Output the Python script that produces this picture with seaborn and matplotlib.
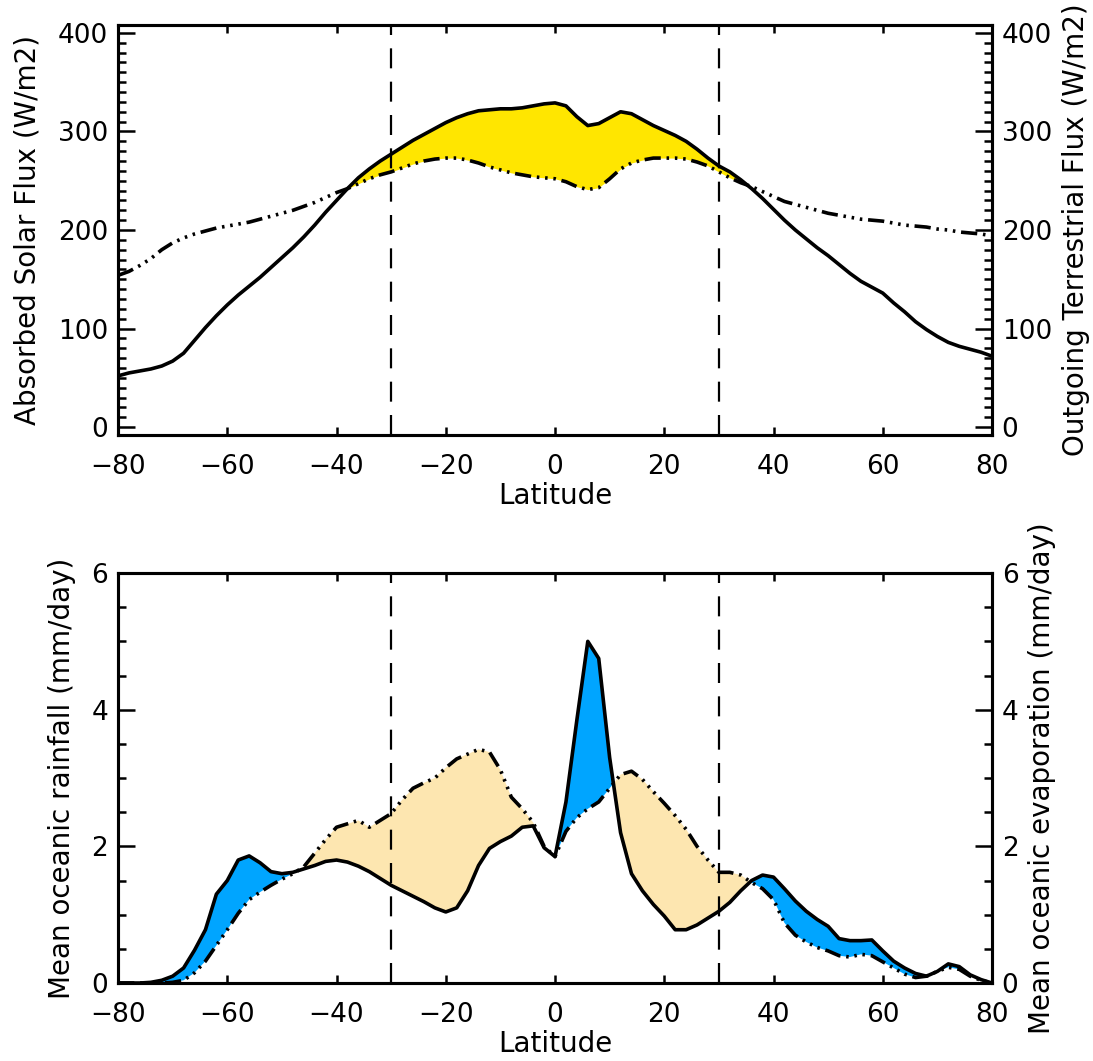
import numpy as np
import pandas as pd
import seaborn as sns
import matplotlib.pyplot as plt
from matplotlib.ticker import MultipleLocator

# latitude grid (every 2 degrees)
lat = np.arange(-80, 81, 2)

# top panel: absorbed solar and outgoing terrestrial flux (W/m2)
solar = [52, 55, 57, 59, 62, 67, 75, 88, 101, 113,
         124, 134, 143, 152, 162, 172, 182, 193, 205, 218,
         230, 242, 253, 262, 270, 277, 284, 291, 297, 303,
         309, 314, 318, 321, 322, 323, 323, 324, 326, 328,
         329, 326, 315, 306, 308, 314, 320, 318, 312, 306,
         301, 296, 290, 282, 273, 265, 259, 251, 242, 232,
         221, 210, 200, 191, 182, 174, 165, 156, 148, 142,
         136, 126, 117, 107, 99, 92, 86, 82, 79, 76, 72]
olr = [154, 158, 164, 171, 180, 187, 192, 196, 199, 202,
       204, 206, 208, 211, 214, 217, 220, 224, 228, 233,
       238, 242, 247, 252, 256, 259, 263, 267, 270, 272,
       273, 273, 271, 268, 264, 261, 258, 256, 254, 253,
       252, 249, 244, 241, 243, 252, 262, 268, 271, 273,
       273, 273, 272, 269, 265, 259, 253, 248, 244, 239,
       234, 229, 226, 223, 220, 217, 215, 213, 211, 210,
       209, 207, 205, 204, 203, 201, 200, 198, 197, 196, 194]

# bottom panel: mean oceanic rainfall and evaporation (mm/day)
rain = [0, 0, 0, 0.01, 0.04, 0.10, 0.22, 0.48, 0.78, 1.30,
        1.50, 1.80, 1.86, 1.76, 1.63, 1.60, 1.62, 1.67, 1.72, 1.78,
        1.80, 1.77, 1.71, 1.63, 1.53, 1.43, 1.35, 1.27, 1.19, 1.10,
        1.04, 1.10, 1.35, 1.72, 1.97, 2.07, 2.15, 2.28, 2.30, 1.98,
        1.85, 2.65, 3.85, 5.00, 4.75, 3.30, 2.20, 1.60, 1.35, 1.15,
        0.98, 0.78, 0.78, 0.85, 0.95, 1.05, 1.18, 1.35, 1.50, 1.58,
        1.55, 1.38, 1.20, 1.05, 0.93, 0.83, 0.65, 0.62, 0.62, 0.63,
        0.47, 0.32, 0.22, 0.14, 0.10, 0.17, 0.28, 0.24, 0.12, 0.05, 0.0]
evap = [0, 0, 0, 0, 0, 0.01, 0.04, 0.15, 0.32, 0.55,
        0.78, 1.02, 1.22, 1.33, 1.43, 1.52, 1.60, 1.70, 1.90, 2.10,
        2.28, 2.33, 2.38, 2.28, 2.38, 2.48, 2.68, 2.85, 2.93, 3.00,
        3.15, 3.28, 3.35, 3.42, 3.38, 3.12, 2.72, 2.55, 2.35, 2.00,
        1.85, 2.22, 2.42, 2.55, 2.65, 2.85, 3.05, 3.10, 2.98, 2.80,
        2.63, 2.45, 2.25, 2.00, 1.80, 1.62, 1.62, 1.58, 1.47, 1.38,
        1.22, 0.88, 0.70, 0.60, 0.52, 0.47, 0.40, 0.38, 0.42, 0.40,
        0.31, 0.22, 0.13, 0.08, 0.10, 0.17, 0.23, 0.20, 0.10, 0.04, 0.0]

df = pd.DataFrame({"lat": lat, "solar": solar, "olr": olr, "rain": rain, "evap": evap})

sns.set_style("ticks")
plt.rcParams['font.family'] = ['DejaVu Sans']
plt.rcParams.update({
    'axes.linewidth': 2.2, 'axes.edgecolor': 'black', 'axes.labelcolor': 'black',
    'text.color': 'black', 'xtick.color': 'black', 'ytick.color': 'black',
})

dashdotdot = (0, (4.5, 1.6, 0.7, 1.6, 0.7, 1.6, 0.7, 1.6))
FS = 19
LFS = 20

fig = plt.figure(figsize=(10.93, 10.61), dpi=100)
ax1 = fig.add_axes([0.108, 0.590, 0.7996, 0.3864])
ax2 = fig.add_axes([0.108, 0.0735, 0.7996, 0.3864])


def style_axes(ax, ylim, major, minor, ylabel, rlabel, lpad):
    ax.set_xlim(-80, 80)
    ax.set_ylim(*ylim)
    ax.xaxis.set_major_locator(MultipleLocator(20))
    ax.yaxis.set_major_locator(MultipleLocator(major))
    ax.yaxis.set_minor_locator(MultipleLocator(minor))
    ax.tick_params(which='both', direction='in', top=True, right=False, width=1.8)
    ax.tick_params(axis='y', which='major', length=12, labelsize=FS, pad=7)
    ax.tick_params(axis='y', which='minor', length=6)
    ax.tick_params(axis='x', which='major', length=6, labelsize=FS, pad=14)
    ax.set_xlabel("Latitude", fontsize=LFS, labelpad=1)
    ax.set_ylabel(ylabel, fontsize=LFS, labelpad=lpad)
    for v in (-30, 30):
        ax.axvline(v, color='k', lw=1.6, ls=(0, (9, 6)), zorder=4)
    tw = ax.twinx()
    tw.set_ylim(*ylim)
    tw.yaxis.set_major_locator(MultipleLocator(major))
    tw.yaxis.set_minor_locator(MultipleLocator(minor))
    tw.tick_params(which='both', direction='in', width=1.8)
    tw.tick_params(which='major', length=12, labelsize=FS, pad=7)
    tw.tick_params(which='minor', length=6)
    tw.set_ylabel(rlabel, fontsize=LFS, labelpad=7)
    for s in tw.spines.values():
        s.set_linewidth(2.2)


# top panel
ax1.fill_between(df.lat, df.solar, df.olr, where=df.solar >= df.olr,
                 interpolate=True, color='#ffe600', lw=0, zorder=1)
sns.lineplot(data=df, x="lat", y="solar", ax=ax1, color='k', lw=2.6, zorder=3)
sns.lineplot(data=df, x="lat", y="olr", ax=ax1, color='k', lw=2.6, ls=dashdotdot, zorder=3)
style_axes(ax1, (-8, 408), 100, 10, "Absorbed Solar Flux (W/m2)",
           "Outgoing Terrestrial Flux (W/m2)", 12)

# bottom panel
ax2.fill_between(df.lat, df.rain, df.evap, where=df.rain >= df.evap,
                 interpolate=True, color='#00a5ff', lw=0, zorder=1)
ax2.fill_between(df.lat, df.rain, df.evap, where=df.rain <= df.evap,
                 interpolate=True, color='#fde6b0', lw=0, zorder=1)
sns.lineplot(data=df, x="lat", y="rain", ax=ax2, color='k', lw=2.6, zorder=3)
sns.lineplot(data=df, x="lat", y="evap", ax=ax2, color='k', lw=2.6, ls=dashdotdot, zorder=3)
style_axes(ax2, (0, 6), 2, 0.5, "Mean oceanic rainfall (mm/day)",
           "Mean oceanic evaporation (mm/day)", 11)

fig.savefig("out.png", dpi=100)
